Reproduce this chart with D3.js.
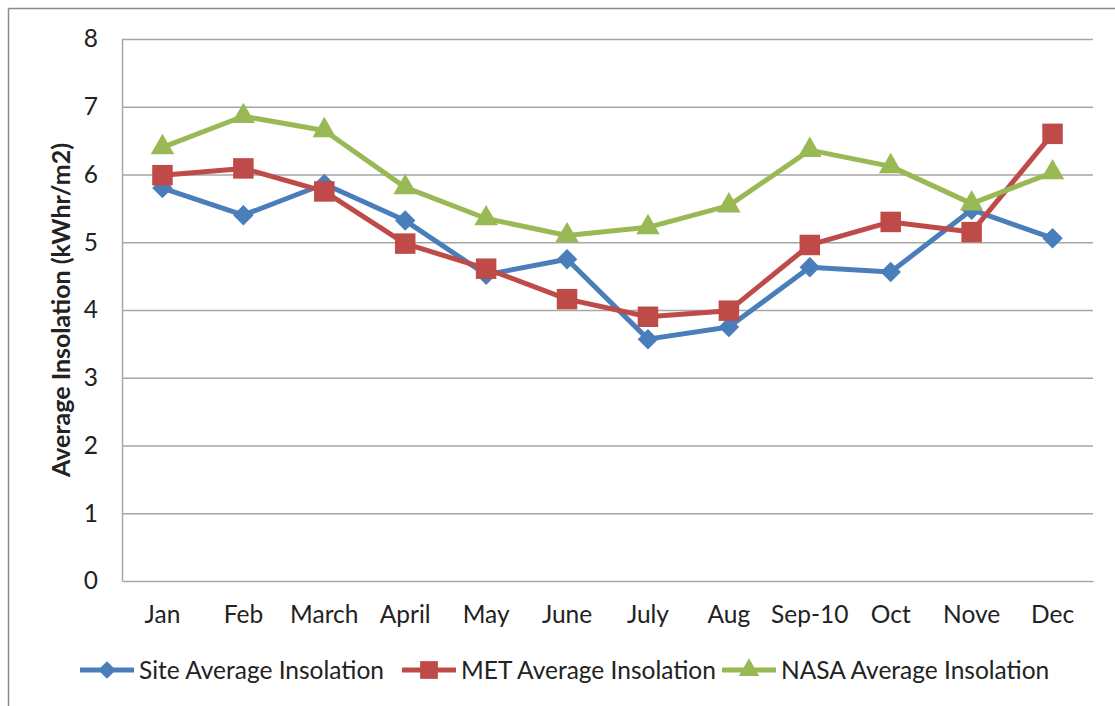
<!DOCTYPE html>
<html lang="en">
<head>
	<meta charset="UTF-8">
	<script src="https://d3js.org/d3.v7.min.js"></script>
	<style>
	body { margin: 0; background: #fff; }
	text { font-family: Lato, "Open Sans", sans-serif; fill: #222; }
	</style>
	<title>Average Insolation</title>
</head>
<body>
	<div id="chart"></div>
	<script>
		// Chart values
		const months = ["Jan", "Feb", "March", "April", "May", "June", "July", "Aug", "Sep-10", "Oct", "Nove", "Dec"];
		const siteValues = [5.80, 5.40, 5.86, 5.32, 4.52, 4.75, 3.57, 3.75, 4.63, 4.56, 5.48, 5.06];
		const metValues = [5.99, 6.09, 5.75, 4.98, 4.61, 4.16, 3.90, 3.99, 4.96, 5.30, 5.15, 6.60];
		const nasaValues = [6.40, 6.86, 6.65, 5.81, 5.35, 5.10, 5.22, 5.54, 6.36, 6.12, 5.57, 6.03];
		const yTicks = [0, 1, 2, 3, 4, 5, 6, 7, 8];
		const seriesNames = ["Site Average Insolation", "MET Average Insolation", "NASA Average Insolation"];

		const width = 1115, height = 706;
		const margin = { top: 39, right: 22, bottom: 125, left: 122 };

		const svg = d3.select("#chart")
			.append("svg")
			.attr("width", width)
			.attr("height", height);

		// outer frame (only top and left edges show)
		svg.append("line").attr("x1", 8.5).attr("x2", width).attr("y1", 8.5).attr("y2", 8.5)
			.attr("stroke", "#8a8a8a").attr("stroke-width", 1.5);
		svg.append("line").attr("x1", 8.5).attr("x2", 8.5).attr("y1", 8.5).attr("y2", height)
			.attr("stroke", "#8a8a8a").attr("stroke-width", 1.5);

		const x = d3.scaleBand(months, [margin.left, width - margin.right]);
		const y = d3.scaleLinear([0, 8], [height - margin.bottom, margin.top]);
		const cx = d => x(d) + x.bandwidth() / 2;

		// gridlines
		svg.append("g")
			.selectAll("line")
			.data(yTicks.filter(t => t > 0))
			.join("line")
			.attr("x1", margin.left).attr("x2", width - margin.right)
			.attr("y1", d => y(d) + 0.5).attr("y2", d => y(d) + 0.5)
			.attr("stroke", "#a6a6a6").attr("stroke-width", 1.5);

		// y axis
		const yAxis = svg.append("g")
			.attr("transform", "translate(" + margin.left + ",0)")
			.call(d3.axisLeft(y).tickValues(yTicks).tickSize(0).tickPadding(24));
		yAxis.select(".domain").attr("stroke", "#a6a6a6").attr("stroke-width", 1.5);
		yAxis.selectAll("text").style("font-size", "24.5px").attr("fill", "#222")
			.style("font-family", "Lato, sans-serif");

		// x axis
		const xAxis = svg.append("g")
			.attr("transform", "translate(0," + (height - margin.bottom) + ")")
			.call(d3.axisBottom(x).tickSize(0).tickPadding(25));
		xAxis.select(".domain").attr("stroke", "#a6a6a6").attr("stroke-width", 1.5);
		xAxis.selectAll("text").style("font-size", "24.5px").attr("fill", "#222")
			.style("font-family", "Lato, sans-serif");

		// y title
		svg.append("text")
			.attr("transform", "translate(70," + y(4) + ") rotate(-90)")
			.attr("text-anchor", "middle")
			.style("font-size", "25px")
			.style("font-weight", "bold")
			.text("Average Insolation (kWhr/m2)");

		const series = [
			{ name: seriesNames[0], values: siteValues, color: "#4a7ebb", shape: d3.symbolSquare, size: 210, rot: 45 },
			{ name: seriesNames[1], values: metValues, color: "#be4b48", shape: d3.symbolSquare, size: 420, rot: 0 },
			{ name: seriesNames[2], values: nasaValues, color: "#98b954", shape: d3.symbolTriangle, size: 240, rot: 0 }
		];

		const line = d3.line()
			.x((d, i) => cx(months[i]))
			.y(d => y(d));

		series.forEach(s => {
			const g = svg.append("g");
			g.append("path")
				.datum(s.values)
				.attr("d", line)
				.attr("fill", "none")
				.attr("stroke", s.color)
				.attr("stroke-width", 5)
				.attr("stroke-linejoin", "round");
			g.selectAll("path.mark")
				.data(s.values)
				.join("path")
				.attr("class", "mark")
				.attr("d", d3.symbol(s.shape, s.size))
				.attr("transform", (d, i) => "translate(" + cx(months[i]) + "," + y(d) + ") rotate(" + s.rot + ")")
				.attr("fill", s.color);
		});

		// legend
		const legendX = [80, 402, 722];
		const legend = svg.append("g").attr("transform", "translate(0,670)");
		series.forEach((s, i) => {
			const g = legend.append("g").attr("transform", "translate(" + legendX[i] + ",0)");
			g.append("line").attr("x1", 0).attr("x2", 54).attr("y1", 0).attr("y2", 0)
				.attr("stroke", s.color).attr("stroke-width", 5);
			g.append("path")
				.attr("d", d3.symbol(s.shape, s.size * 0.75))
				.attr("transform", "translate(27,0) rotate(" + s.rot + ")")
				.attr("fill", s.color);
			g.append("text")
				.attr("x", 59).attr("y", 0)
				.attr("dy", "0.35em")
				.style("font-size", "24.5px")
				.text(s.name);
		});
	</script>
</body>
</html>
